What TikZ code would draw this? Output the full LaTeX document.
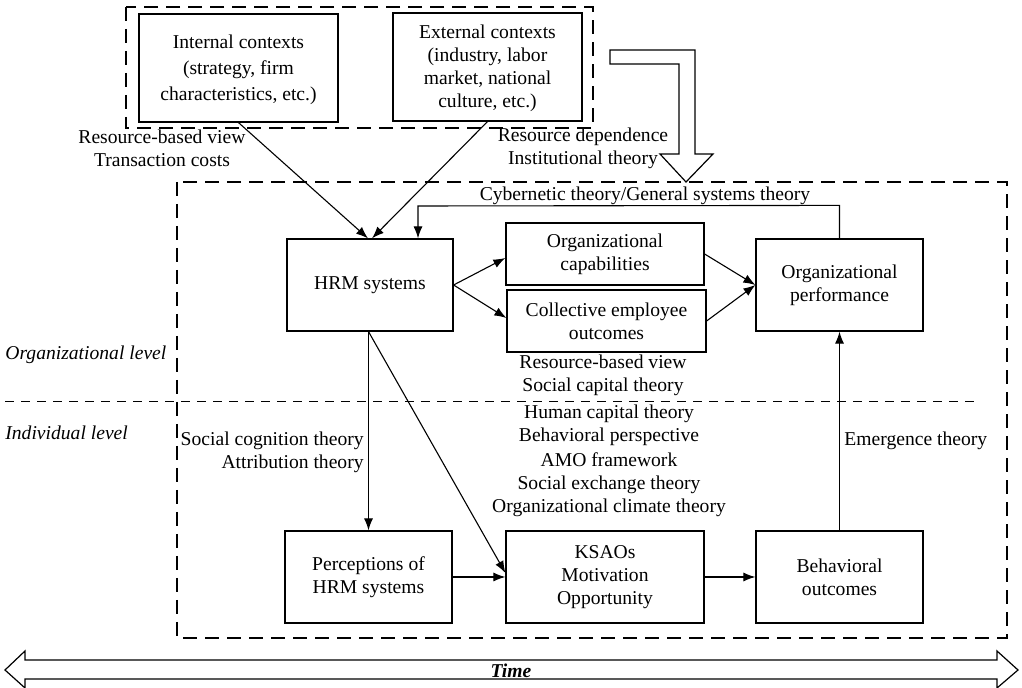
\documentclass[tikz,border=0pt]{standalone}
\usepackage{fontspec}
\setmainfont{Liberation Serif}
\usetikzlibrary{arrows.meta,calc}
\begin{document}
\begin{tikzpicture}[x=0.5pt,y=-0.5pt,
  font=\fontsize{9.8}{11.5}\selectfont,
  box/.style={draw,line width=0.6pt,inner sep=0pt,align=center},
  lbl/.style={align=center,inner sep=0pt},
  arr/.style={-{Latex[length=6pt,width=4.5pt]},line width=0.55pt},
  dashbox/.style={line width=0.6pt,dash pattern=on 7pt off 4pt},
  levelline/.style={line width=0.5pt,dash pattern=on 4.5pt off 3.5pt},
  hollow/.style={draw,fill=white,line width=0.6pt,line join=miter}]
\useasboundingbox (0,0) rectangle (1022,688);

% context frame and the analysis frame
\draw[dashbox] (126,7) rectangle (593,128);
\draw[dashbox] (177,182) rectangle (1007,638);
\draw[levelline] (5,402) -- (980,402);

% boxes
\node[box,minimum width=99.5pt,minimum height=54pt] (intctx) at (238.5,68) {};
\node[lbl,font=\fontsize{9.8}{13}\selectfont] (intctxtext) at (238.5,70)
  {Internal contexts\\(strategy, firm\\characteristics, etc.)};
\node[box,minimum width=94.5pt,minimum height=54pt] (extctx) at (487.5,67) {};
\node[lbl] (extctxtext) at (487.5,68)
  {External contexts\\(industry, labor\\market, national\\culture, etc.)};
\node[box,minimum width=83pt,minimum height=46pt] (hrm) at (370,285) {HRM systems};
\node[box,minimum width=99pt,minimum height=31pt] (orgcap) at (605,254) {Organizational\\capabilities};
\node[box,minimum width=99.5pt,minimum height=31pt] (colemp) at (606.5,321) {Collective employee\\outcomes};
\node[box,minimum width=83.5pt,minimum height=46pt] (orgperf) at (839.5,285) {Organizational\\performance};
\node[box,minimum width=83.5pt,minimum height=46pt] (percep) at (368.5,577) {Perceptions of\\HRM systems};
\node[box,minimum width=99pt,minimum height=46pt] (ksao) at (605,577) {KSAOs\\Motivation\\Opportunity};
\node[box,minimum width=83.5pt,minimum height=46pt] (behav) at (839.5,577) {Behavioral\\outcomes};

% hollow arrow from the external contexts into the frame
\draw[hollow] (610,50) -- (695,50) -- (695,154) -- (713,154) -- (686,182)
  -- (660,154) -- (679,154) -- (679,64) -- (610,64) -- cycle;

% time axis
\draw[hollow] (5,670) -- (25,651) -- (25,660) -- (997,660) -- (997,651) -- (1018,670)
  -- (997,688) -- (997,679) -- (25,679) -- (25,688) -- cycle;
\node[lbl,font=\fontsize{9.8}{11.5}\selectfont\bfseries\itshape] (time) at (511,671) {Time};

% connectors
\draw[arr] (intctx.south) -- ($(hrm.north)+(-2,0)$);
\draw[arr] (extctx.south) -- ($(hrm.north)+(2,0)$);
\coordinate (fbR) at ($(orgperf.north)+(0,-33)$);
\coordinate (fbL) at (418,206);
\draw[arr] (orgperf.north) -- (fbR) -- (fbL) -- (fbL |- hrm.north);
\draw[arr] (hrm.east) -- ($(orgcap.west)+(0,4)$);
\draw[arr] (hrm.east) -- ($(colemp.west)+(0,-3)$);
\draw[arr] (orgcap.east) -- (orgperf.west);
\draw[arr] (colemp.east) -- (orgperf.west);
\coordinate (hrmS) at (percep.north |- hrm.south);
\draw[arr] (hrmS) -- (percep.north);
\draw[arr] (hrmS) -- ($(ksao.west)+(0,-4)$);
\draw[arr] (percep.east) -- (ksao.west);
\draw[arr] (ksao.east) -- (behav.west);
\draw[arr] (behav.north) -- (orgperf.south);

% theory labels
\node[lbl] (tl1) at (162,148) {Resource-based view\\Transaction costs};
\node[lbl] (tl2) at (583,148) {Resource dependence\\Institutional theory};
\node[lbl] (tl3) at (645,196) {Cybernetic theory/General systems theory};
\node[lbl] (tl4) at (603,375) {Resource-based view\\Social capital theory};
\node[lbl] (tl5) at (609,425) {Human capital theory\\Behavioral perspective};
\node[lbl] (tl6) at (609,485) {AMO framework\\Social exchange theory\\Organizational climate theory};
\node[lbl,align=right,anchor=east] (tl7) at (364,452) {Social cognition theory\\Attribution theory};
\node[lbl,anchor=west] (tl8) at (844,441) {Emergence theory};

% level labels
\node[lbl,anchor=west,font=\fontsize{9.8}{11.5}\selectfont\itshape] (orglvl) at (5,355) {Organizational level};
\node[lbl,anchor=west,font=\fontsize{9.8}{11.5}\selectfont\itshape] (indlvl) at (5,433) {Individual level};
\end{tikzpicture}
\end{document}
